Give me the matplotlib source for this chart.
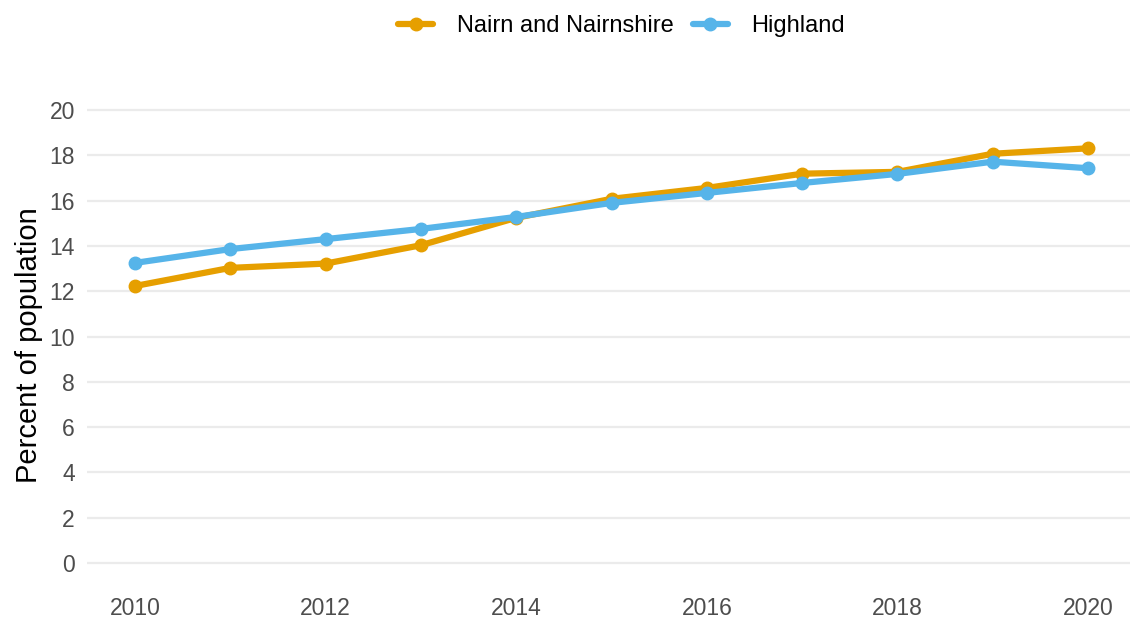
import numpy as np
from matplotlib import pyplot as plt

plt.rcParams['font.family'] = ['Liberation Sans', 'DejaVu Sans']

years = np.arange(2010, 2021)
nairn = [12.23, 13.03, 13.22, 14.03, 15.24, 16.08, 16.56, 17.19, 17.27, 18.07, 18.31]
highland = [13.25, 13.86, 14.3, 14.75, 15.28, 15.9, 16.34, 16.78, 17.18, 17.72, 17.43]

y_ticks = np.arange(0, 21, 2)
x_ticks = np.arange(2010, 2021, 2)

fig = plt.figure(figsize=(11.3, 6.22), dpi=100)
ax = fig.add_axes([0.0773, 0.0585, 0.9227, 0.801])

# two series, same style
ax.plot(years, nairn, color='#E69F00', lw=4.5, marker='o', ms=9,
        solid_capstyle='round', label='Nairn and Nairnshire')
ax.plot(years, highland, color='#56B4E9', lw=4.5, marker='o', ms=9,
        solid_capstyle='round', label='Highland')

ax.set_xlim(2009.5, 2020.44)
ax.set_ylim(-1, 21)
ax.set_yticks(y_ticks)
ax.set_xticks(x_ticks)
ax.grid(True, axis='y', color='#ebebeb', lw=1.6)
ax.set_axisbelow(True)
for sp in ax.spines.values():
    sp.set_visible(False)
ax.tick_params(length=0, labelsize=16.5, labelcolor='#4d4d4d')
ax.tick_params(axis='x', pad=8)
ax.tick_params(axis='y', pad=9)
ax.set_ylabel('Percent of population', fontsize=21, color='black')
ax.yaxis.set_label_coords(-0.043, 0.482)

fig.legend(loc='upper center', bbox_to_anchor=(0.55, 1.01), ncol=2, frameon=False,
           fontsize=17, handlelength=1.5, columnspacing=0.8, handletextpad=1.0)

plt.savefig('out.png', dpi=100)
